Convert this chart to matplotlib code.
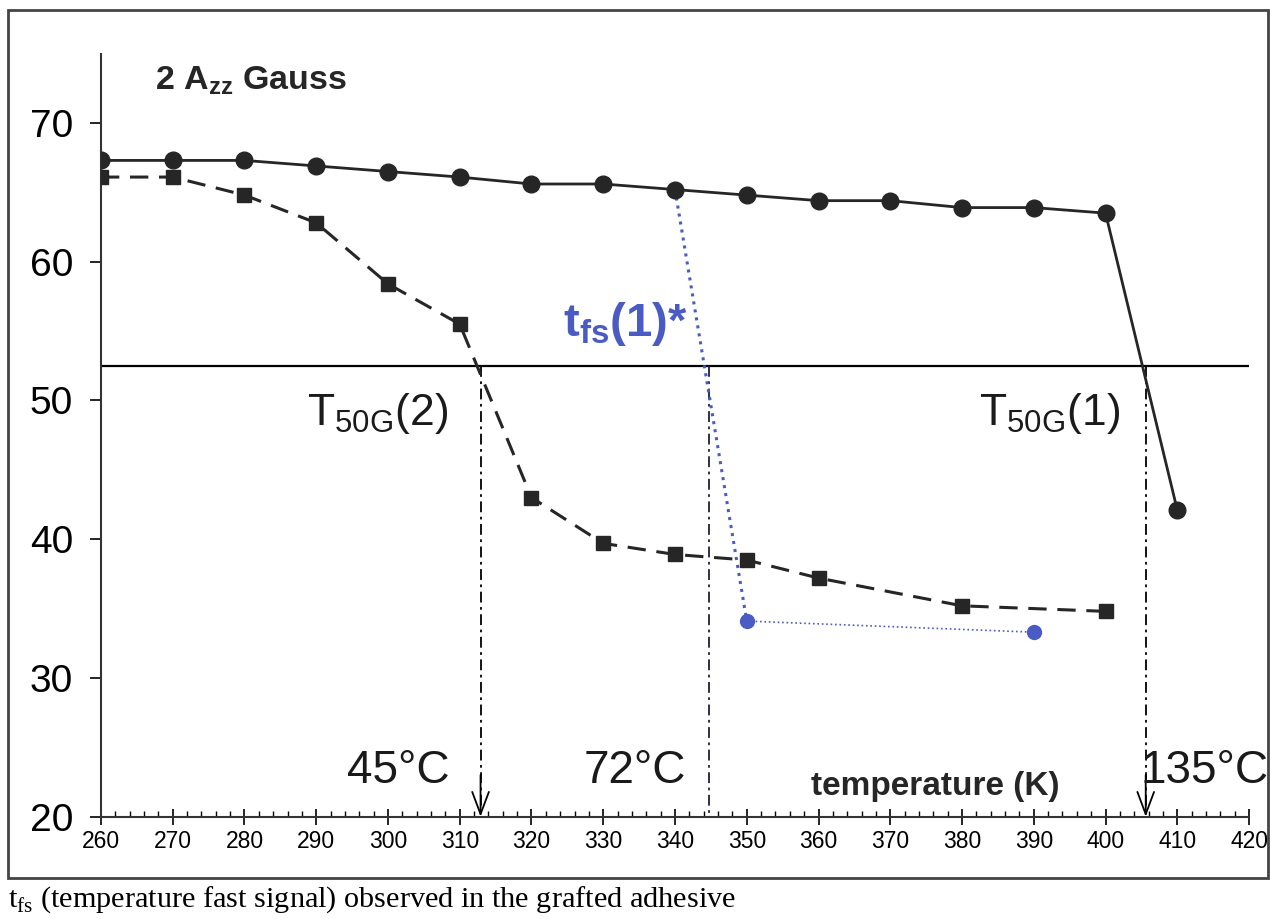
import matplotlib
matplotlib.use("Agg")
import matplotlib.pyplot as plt
from matplotlib.patches import Rectangle
from matplotlib.ticker import MultipleLocator

plt.rcParams['font.family'] = ['Liberation Sans', 'DejaVu Sans']

# circles, solid line (grafted adhesive, component 1)
temp_1 = [260, 270, 280, 290, 300, 310, 320, 330, 340, 350, 360, 370, 380, 390, 400, 410]
azz_1 = [67.3, 67.3, 67.3, 66.9, 66.5, 66.1, 65.6, 65.6, 65.2, 64.8, 64.4, 64.4, 63.9, 63.9, 63.5, 42.1]

# squares, dashed line (component 2)
temp_2 = [260, 270, 280, 290, 300, 310, 320, 330, 340, 350, 360, 380, 400]
azz_2 = [66.1, 66.1, 64.8, 62.8, 58.4, 55.5, 43.0, 39.7, 38.9, 38.5, 37.2, 35.2, 34.8]

# blue fast signal t_fs(1)*
temp_fs = [340, 350, 390]
azz_fs = [65.2, 34.1, 33.3]

t50_level = 52.5
t50_temps = [312.9, 344.8, 405.6]
celsius_labels = ['45°C', '72°C', '135°C']

dark = '#262626'
blue = '#4a5cc4'
navy = '#1c2038'
txt = '#1a1a1a'

fig = plt.figure(figsize=(12.7, 9.19), dpi=100)
ax = fig.add_axes([0.0795, 0.1113, 0.904, 0.8304])

ax.plot(temp_1, azz_1, '-', color=dark, lw=2, marker='o', ms=12, zorder=4)
ax.plot(temp_2, azz_2, color=dark, lw=2.2, dashes=(6, 3.5), marker='s', ms=10, zorder=4)
ax.plot(temp_fs[:2], azz_fs[:2], ':', color=blue, lw=2.2, zorder=3)
ax.plot(temp_fs[1:], azz_fs[1:], ':', color=blue, lw=1.2, zorder=3)
ax.plot(temp_fs[1:], azz_fs[1:], 'o', color=blue, ms=10, zorder=5)

ax.axhline(t50_level, color='black', lw=1.6, zorder=2)

for i, t in enumerate(t50_temps):
    col = navy if i == 1 else 'black'
    ax.plot([t, t], [t50_level, 20], color=col, lw=1.3, dashes=(6, 2.5, 1.5, 2.5), zorder=2)
    if i != 1:
        ax.annotate('', xy=(t, 20), xytext=(t, 23),
                    arrowprops=dict(arrowstyle='->,head_length=1.6,head_width=0.6',
                                    color='black', lw=1.3, shrinkA=0, shrinkB=0))

ax.set_xlim(260, 420)
ax.set_ylim(20, 75)
ax.xaxis.set_major_locator(MultipleLocator(10))
ax.xaxis.set_minor_locator(MultipleLocator(2))
ax.set_yticks([20, 30, 40, 50, 60, 70])
for s in ['top', 'right']:
    ax.spines[s].set_visible(False)
for s in ['left', 'bottom']:
    ax.spines[s].set_linewidth(1.5)
    ax.spines[s].set_color('#333333')
ax.tick_params(axis='y', direction='out', length=8, width=1.2, labelsize=28, pad=12)
ax.tick_params(axis='x', which='major', direction='inout', length=11, width=1.2,
               labelsize=16.5, pad=4)
ax.tick_params(axis='x', which='minor', direction='in', length=4, width=1)

ax.text(267.5, 72.4, r'2 A$_{\mathregular{zz}}$ Gauss', fontsize=24.5,
        fontweight='bold', color=dark)
ax.text(288.7, 48.25, r'T$_{\mathregular{50G}}$(2)', fontsize=32, color=txt)
ax.text(382.3, 48.25, r'T$_{\mathregular{50G}}$(1)', fontsize=32, color=txt)
ax.text(324.4, 54.65, r't$_{\mathregular{fs}}$(1)*', fontsize=34, fontweight='bold', color=blue)

ax.text(294.3, 22.4, celsius_labels[0], fontsize=33, color=txt)
ax.text(327.2, 22.4, celsius_labels[1], fontsize=33, color=txt)
ax.text(404.9, 22.4, celsius_labels[2], fontsize=33, color=txt)
ax.text(358.9, 21.6, 'temperature (K)', fontsize=24, fontweight='bold', color=dark)

fig.patches.append(Rectangle((8 / 1270, 1 - 878 / 919), 1260 / 1270, 868 / 919,
                             transform=fig.transFigure, fill=False,
                             edgecolor='#444444', lw=2))
fig.text(8 / 1270, 1 - 907 / 919, r't$_{\mathregular{fs}}$ (temperature fast signal) observed in the grafted adhesive',
         fontsize=21.8, family=['Liberation Serif', 'DejaVu Serif'], va='baseline')

fig.savefig('out.png', dpi=100)
